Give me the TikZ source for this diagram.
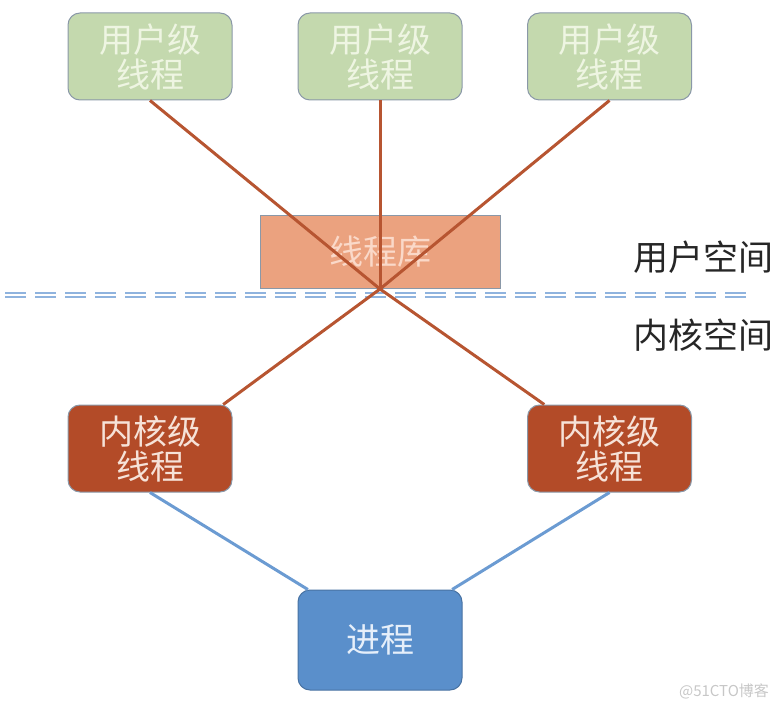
\documentclass[tikz,border=0pt]{standalone}
\usepackage{fontspec}
\setmainfont{Noto Sans CJK SC}
\usetikzlibrary{calc}

\definecolor{ugreen}{HTML}{C4D9AE}
\definecolor{ugreentext}{HTML}{EEF5E2}
\definecolor{libfill}{HTML}{EBA27F}
\definecolor{libtext}{HTML}{FAD9C9}
\definecolor{kfill}{HTML}{B34B28}
\definecolor{ktext}{HTML}{F6E2D8}
\definecolor{pfill}{HTML}{5A8FCB}
\definecolor{ptext}{HTML}{E6EFFA}
\definecolor{edgegray}{HTML}{8A98A8}
\definecolor{redline}{HTML}{B75531}
\definecolor{blueline}{HTML}{6B9BD2}
\definecolor{dashblue}{HTML}{8FB3DE}

\begin{document}
\begin{tikzpicture}[x = 1pt, y = -1pt,
	box/.style = {draw = edgegray, line width = 1pt, rounded corners = 12pt, minimum width = 164pt, minimum height = 87pt, align = center, inner sep = 0pt, font = \fontsize{34}{35}\selectfont},
	uthread/.style = {box, fill = ugreen, text = ugreentext},
	kthread/.style = {box, fill = kfill, text = ktext},
	space/.style = {font = \fontsize{35}{36}\selectfont, text = black!85}]
	\useasboundingbox (0, 0) rectangle (784, 711);

	\node[uthread] (u1) at (150, 56.5){用户级\\线程};
	\node[uthread] (u2) at (380, 56.5){用户级\\线程};
	\node[uthread] (u3) at (609.5, 56.5){用户级\\线程};

	\node[draw = edgegray, line width = 1pt, fill = libfill, text = libtext, minimum width = 240pt, minimum height = 72pt, font = \fontsize{34}{35}\selectfont] (lib) at (380, 252){线程库};

	\foreach \yy in {292.5, 297}
		\draw[dashblue, line width = 2pt, dash pattern = on 21pt off 9pt] (5, \yy) -- (752, \yy);

	\node[space] (us) at (703, 257){用户空间};
	\node[space] (ks) at (703, 335){内核空间};

	\node[kthread] (k1) at (150, 448.5){内核级\\线程};
	\node[kthread] (k2) at (609.5, 448.5){内核级\\线程};

	\node[box, fill = pfill, draw = pfill!80!black, text = ptext, minimum height = 100pt] (p) at (380, 640){进程};

	\coordinate (x) at (380, 289);
	\draw[redline, line width = 3pt] (u1.south) -- (x) -- (k2.146);
	\draw[redline, line width = 3pt] (u3.south) -- (x) -- (k1.31);
	\draw[redline, line width = 3pt] (u2.south) -- (x);

	\draw[blueline, line width = 3pt] (k1.south) -- (p.145);
	\draw[blueline, line width = 3pt] (k2.south) -- (p.35);

	\node[text = black!22, font = \fontsize{15}{18}\selectfont] (wm) at (724, 691){@51CTO博客};
\end{tikzpicture}
\end{document}
